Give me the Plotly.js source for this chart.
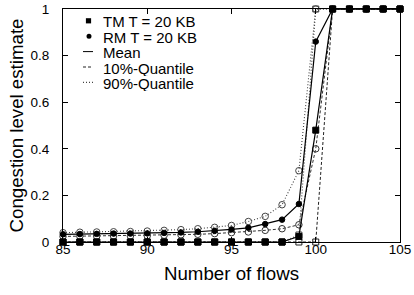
<!DOCTYPE html>
<html>
<head>
<meta charset="utf-8">
<script src="https://cdn.plot.ly/plotly-3.0.1.min.js"></script>
<style>html,body{margin:0;padding:0;background:#fff;}#chart{width:414px;height:295px;}</style>
</head>
<body>
<div id="chart"></div>
<script>
// ---- data ----
const flows = [85,86,87,88,89,90,91,92,93,94,95,96,97,98,99,100,101,102,103,104,105];

const tmMean = [0,0,0,0,0,0,0,0,0,0,0,0,0,0,0.024,0.48,1,1,1,1,1];
const tmQ10  = [0,0,0,0,0,0,0,0,0,0,0,0,0,0,0,0,1,1,1,1,1];
const tmQ90  = [0,0,0,0,0,0,0,0,0,0,0,0,0,0,0.03,1,1,1,1,1,1];

const rmMean = [0.033,0.034,0.035,0.036,0.036,0.037,0.039,0.041,0.044,0.048,0.054,0.061,0.077,0.096,0.163,0.86,1,1,1,1,1];
const rmQ10  = [0.024,0.025,0.025,0.026,0.026,0.027,0.029,0.031,0.033,0.036,0.040,0.043,0.050,0.057,0.074,0.40,1,1,1,1,1];
const rmQ90  = [0.040,0.042,0.043,0.044,0.045,0.047,0.050,0.053,0.057,0.063,0.071,0.088,0.110,0.160,0.306,1,1,1,1,1,1];

const legendLabels = ["TM T = 20 KB","RM T = 20 KB","Mean","10%-Quantile","90%-Quantile"];
const xTicks = [85,90,95,100,105];
const yTicks = [0,0.2,0.4,0.6,0.8,1];

// ---- styling ----
const FONT = "Liberation Sans, Arial, Helvetica, sans-serif";
const DASH = "3px,2px";
const DOT = "1px,2px";

function tr(y, sym, size, color, dash, width) {
  return {
    x: flows, y: y, type: "scatter", mode: "lines+markers", showlegend: false,
    line: {color: color, width: width, dash: dash},
    marker: {symbol: sym, size: size, color: color, line: {color: color, width: 1}},
    cliponaxis: false, hoverinfo: "skip"
  };
}

const data = [
  tr(tmQ90, "square-open", 6, "#444", DOT, 1.1),
  tr(rmQ90, "circle-open", 6.5, "#444", DOT, 1.1),
  tr(tmQ10, "square-open", 6, "#222", DASH, 1),
  tr(rmQ10, "circle-open", 6.5, "#333", DASH, 1),
  tr(rmMean, "circle", 5.5, "#000", "solid", 1.2),
  tr(tmMean, "square", 6, "#000", "solid", 1.2)
];

// manual legend (pixel geometry converted to paper coords)
const L = 63, T = 9, W = 337, H = 233;
const px = v => (v - L) / W;
const py = v => (T + H - v) / H;
const rows = [20.8, 36.2, 51.6, 67.0, 82.4];

const shapes = [
  {type: "rect", xref: "paper", yref: "paper", xsizemode: "pixel", ysizemode: "pixel",
   xanchor: px(88.5), yanchor: py(rows[0]), x0: -2.6, x1: 2.6, y0: -2.6, y1: 2.6,
   fillcolor: "#000", line: {width: 0}},
  {type: "circle", xref: "paper", yref: "paper", xsizemode: "pixel", ysizemode: "pixel",
   xanchor: px(89), yanchor: py(rows[1]), x0: -2.5, x1: 2.5, y0: -2.5, y1: 2.5,
   fillcolor: "#000", line: {width: 0}},
  {type: "line", xref: "paper", yref: "paper", x0: px(83), x1: px(93), y0: py(rows[2]), y1: py(rows[2]),
   line: {color: "#000", width: 1}},
  {type: "line", xref: "paper", yref: "paper", x0: px(83), x1: px(93), y0: py(rows[3]), y1: py(rows[3]),
   line: {color: "#222", width: 1, dash: DASH}},
  {type: "line", xref: "paper", yref: "paper", x0: px(83), x1: px(93), y0: py(rows[4]), y1: py(rows[4]),
   line: {color: "#444", width: 1.1, dash: DOT}}
];

const annotations = legendLabels.map((t, i) => ({
  text: t, xref: "paper", yref: "paper", x: px(101), y: py(rows[i] + 1),
  xanchor: "left", yanchor: "middle", showarrow: false, height: 15, valign: "middle",
  font: {family: FONT, size: 15, color: "#000"}
}));

const layout = {
  width: 414, height: 295,
  margin: {l: L, r: 414 - L - W, t: T, b: 295 - T - H, pad: 0},
  paper_bgcolor: "#fff", plot_bgcolor: "#fff",
  font: {family: FONT, color: "#000"},
  showlegend: false,
  xaxis: {
    range: [85, 105], tickvals: xTicks, ticktext: xTicks.map(String),
    ticks: "inside", ticklen: 5, tickwidth: 1, tickcolor: "#000",
    showline: true, linecolor: "#000", linewidth: 1, mirror: "ticks",
    showgrid: false, zeroline: false,
    ticklabelstandoff: -5,
    tickfont: {family: FONT, size: 13.5, color: "#000"},
    title: {text: "Number of flows", font: {family: FONT, size: 18.7, color: "#000"}, standoff: 10}
  },
  yaxis: {
    range: [0, 1], tickvals: yTicks, ticktext: yTicks.map(String),
    ticks: "inside", ticklen: 5, tickwidth: 1, tickcolor: "#000",
    showline: true, linecolor: "#000", linewidth: 1, mirror: "ticks",
    showgrid: false, zeroline: false,
    ticklabelstandoff: 10,
    tickfont: {family: FONT, size: 13.5, color: "#000"},
    title: {text: "Congestion level estimate", font: {family: FONT, size: 18.7, color: "#000"}, standoff: 1}
  },
  shapes: shapes,
  annotations: annotations
};

Plotly.newPlot("chart", data, layout, {staticPlot: true, displayModeBar: false});
</script>
</body>
</html>
